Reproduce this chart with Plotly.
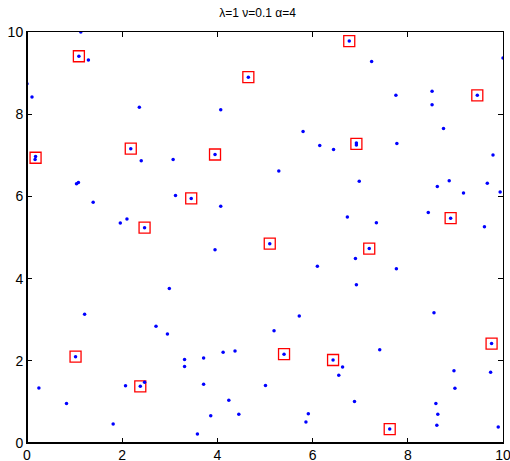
import plotly.graph_objects as go

# all points (blue dots)
x_pts = [1.13, 1.09, 1.29, 0.0, 0.105, 2.36, 2.18, 2.40, 0.18, 0.17,
         4.65, 4.07, 3.95, 3.07, 6.77, 7.24, 7.75, 5.80, 6.15, 6.44,
         6.92, 6.92, 7.77, 10.0, 8.51, 9.46, 8.51, 8.75, 9.79, 1.04,
         1.08, 1.39, 1.96, 2.10, 2.47, 3.12, 3.45, 4.07, 3.95, 5.10,
         2.99, 5.29, 6.98, 6.73, 7.34, 7.19, 6.90, 6.10, 7.76, 6.92,
         8.87, 8.62, 9.67, 9.17, 9.94, 8.43, 8.90, 9.61, 1.21, 1.02,
         0.25, 0.83, 1.81, 2.07, 2.38, 2.47, 2.71, 2.95, 3.31, 3.31,
         3.71, 4.12, 4.37, 5.19, 3.71, 5.01, 4.24, 3.86, 4.45, 3.58,
         5.72, 5.40, 6.43, 6.63, 6.55, 7.41, 6.88, 5.91, 5.86, 7.62,
         8.55, 9.76, 8.97, 9.74, 8.99, 8.59, 8.63, 8.61, 9.90]
y_pts = [10.0, 9.41, 9.32, 8.74, 8.42, 8.17, 7.16, 6.87, 6.97, 6.90,
         8.90, 8.11, 7.02, 6.90, 9.78, 9.28, 8.46, 7.58, 7.24, 7.14,
         7.30, 7.25, 7.29, 9.37, 8.56, 8.46, 8.23, 7.65, 7.01, 6.31,
         6.34, 5.86, 5.35, 5.45, 5.24, 6.02, 5.95, 5.76, 4.70, 4.85,
         3.76, 6.62, 6.37, 5.50, 5.36, 4.73, 4.49, 4.30, 4.24, 3.85,
         6.38, 6.24, 6.32, 6.08, 6.11, 5.61, 5.47, 5.26, 3.13, 2.10,
         1.34, 0.96, 0.46, 1.39, 1.38, 1.48, 2.84, 2.65, 2.03, 1.86,
         2.07, 2.21, 2.24, 2.73, 1.43, 1.40, 1.04, 0.66, 0.70, 0.22,
         3.09, 2.16, 2.02, 1.85, 1.65, 2.27, 1.01, 0.71, 0.51, 0.34,
         3.17, 2.42, 1.76, 1.72, 1.33, 0.96, 0.70, 0.43, 0.39]

# highlighted points (red squares)
box_x = [1.09, 2.18, 0.18, 4.65, 3.95, 6.77, 6.92, 9.46, 2.47, 3.45,
         5.10, 7.19, 8.90, 1.02, 2.38, 5.40, 6.43, 7.62, 9.76]
box_y = [9.41, 7.16, 6.94, 8.90, 7.02, 9.78, 7.28, 8.46, 5.24, 5.95,
         4.85, 4.73, 5.47, 2.10, 1.38, 2.16, 2.02, 0.34, 2.42]

x_ticks = [0, 2, 4, 6, 8, 10]
y_ticks = [0, 2, 4, 6, 8, 10]
title_text = "λ=1 ν=0.1 α=4"

fig = go.Figure()
fig.add_trace(go.Scatter(
    x=box_x, y=box_y, mode="markers",
    marker=dict(symbol="square-open", size=11, color="#ff0000",
                line=dict(width=1.3, color="#ff0000")),
    hoverinfo="skip", showlegend=False))
fig.add_trace(go.Scatter(
    x=x_pts, y=y_pts, mode="markers",
    marker=dict(symbol="circle", size=3.5, color="#0000ff",
                line=dict(width=0)),
    showlegend=False))

axis_common = dict(
    showgrid=False, zeroline=False, showline=True, mirror="ticks",
    linecolor="black", linewidth=1, ticks="inside", ticklen=5,
    tickcolor="black", tickwidth=1, automargin=False,
    ticklabeloverflow="allow",
    tickfont=dict(family="Liberation Sans, Arial, sans-serif", size=14, color="black"),
)
fig.update_xaxes(range=[0, 10], tickvals=x_ticks, ticktext=[str(t) for t in x_ticks],
                 ticklabelstandoff=-1, **axis_common)
fig.update_yaxes(range=[0, 10], tickvals=y_ticks, ticktext=[str(t) for t in y_ticks],
                 ticklabelstandoff=0, **axis_common)

# thicker left/bottom axis lines
fig.add_shape(type="line", xref="paper", yref="paper", x0=0, x1=0, y0=0, y1=1,
              line=dict(color="black", width=2))
fig.add_shape(type="line", xref="paper", yref="paper", x0=0, x1=1, y0=0, y1=0,
              line=dict(color="black", width=2))

fig.update_layout(
    width=510, height=461,
    margin=dict(l=27, r=7, t=32, b=18, autoexpand=False),
    paper_bgcolor="white", plot_bgcolor="white",
    title=dict(text=title_text, x=0.505, xanchor="center", y=1 - 13 / 461, yanchor="middle",
               font=dict(family="Liberation Sans, Arial, sans-serif", size=12, color="black"),
               automargin=False),
)

fig.write_html(
    "out.html",
    config={"displayModeBar": False},
    post_script="document.body.style.margin='0';document.body.style.overflow='hidden';",
)
